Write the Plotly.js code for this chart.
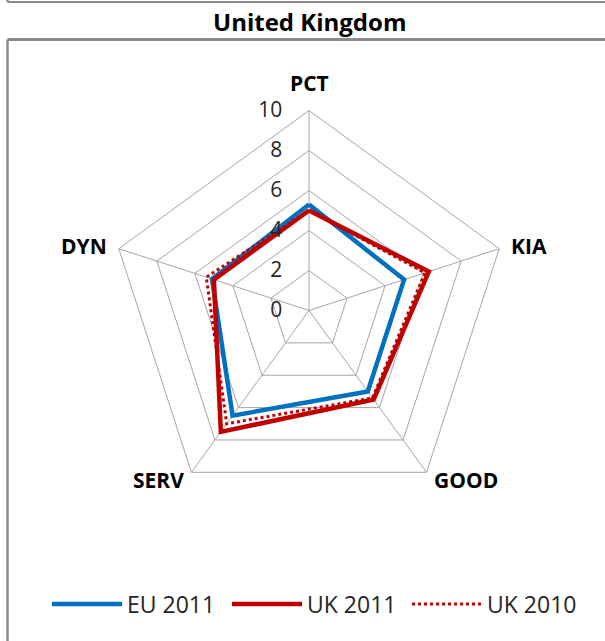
<!DOCTYPE html>
<html>
<head>
<meta charset="utf-8">
<script src="https://cdn.plot.ly/plotly-3.0.1.min.js"></script>
<style>
html,body{margin:0;padding:0;background:#fff;}
#chart{width:605px;height:641px;}
</style>
</head>
<body>
<div id="chart"></div>
<script>
// Data
const categories = ["PCT", "KIA", "GOOD", "SERV", "DYN"];
const eu2011 = [5.3, 5.0, 5.0, 6.5, 5.1];
const uk2011 = [5.0, 6.3, 5.5, 7.5, 5.0];
const uk2010 = [5.0, 6.1, 5.4, 7.0, 5.4];
const radialTicks = [0, 2, 4, 6, 8, 10];
const chartTitle = "United Kingdom";

function closeLoop(arr) { return arr.concat([arr[0]]); }
const theta = closeLoop(categories);

const FONT = "Open Sans, sans-serif";

const traces = [
  {type: "scatterpolar", mode: "lines", name: "EU 2011",
   r: closeLoop(eu2011), theta: theta,
   line: {color: "#0070C0", width: 4.5}},
  {type: "scatterpolar", mode: "lines", name: "UK 2011",
   r: closeLoop(uk2011), theta: theta,
   line: {color: "#C00000", width: 4.5}},
  {type: "scatterpolar", mode: "lines", name: "UK 2010",
   r: closeLoop(uk2010), theta: theta,
   line: {color: "#C00000", width: 3, dash: "dot"}}
];

const W = 605, H = 641;
const cx = 309, cy = 310.5, R = 200;

// category labels placed just outside each spoke of the pentagon
const catAnnotations = categories.map(function (c, i) {
  const a = (90 - 360 / categories.length * i) * Math.PI / 180;
  const ca = Math.cos(a), sa = Math.sin(a);
  const top = Math.abs(ca) < 0.1;
  const dr = top ? 28 : 10;
  const px = cx + (R + dr) * ca;
  const py = cy - (R + dr) * sa;
  return {
    text: "<b>" + c + "</b>",
    xref: "paper", yref: "paper",
    x: px / W, y: 1 - py / H,
    xanchor: top ? "center" : (ca > 0 ? "left" : "right"),
    yanchor: "middle",
    showarrow: false,
    font: {family: FONT, size: 21, color: "#000"}
  };
});

const layout = {
  width: W, height: H,
  margin: {l: 0, r: 0, t: 0, b: 0},
  paper_bgcolor: "#ffffff",
  plot_bgcolor: "#ffffff",
  showlegend: true,
  title: {
    text: "<b>" + chartTitle + "</b>",
    font: {family: FONT, size: 24, color: "#000"},
    x: 0.512, xanchor: "center",
    y: 1 - 23 / H, yanchor: "middle"
  },
  polar: {
    domain: {
      x: [(cx - R) / W, (cx + R) / W],
      y: [(H - cy - R) / H, (H - cy + R) / H]
    },
    gridshape: "linear",
    bgcolor: "#ffffff",
    angularaxis: {
      rotation: 90,
      direction: "clockwise",
      categoryorder: "array",
      categoryarray: categories,
      showline: true,
      linecolor: "#a6a6a6",
      linewidth: 1,
      gridcolor: "#a6a6a6",
      gridwidth: 1,
      ticks: "",
      showticklabels: false
    },
    radialaxis: {
      range: [0, 10],
      tickvals: radialTicks,
      ticktext: radialTicks.map(String),
      angle: 90,
      tickangle: 90,
      side: "counterclockwise",
      showline: false,
      ticks: "outside",
      ticklen: 19,
      tickcolor: "rgba(0,0,0,0)",
      gridcolor: "#a6a6a6",
      gridwidth: 1,
      tickfont: {family: FONT, size: 21, color: "#262626"}
    }
  },
  annotations: catAnnotations,
  legend: {
    orientation: "h",
    x: 47 / W, xanchor: "left",
    y: (H - 604) / H, yanchor: "middle",
    font: {family: FONT, size: 23, color: "#262626"},
    itemwidth: 70,
    entrywidth: 95,
    entrywidthmode: "pixels",
    tracegroupgap: 0,
    bgcolor: "rgba(0,0,0,0)"
  },
  shapes: [
    {type: "line", xref: "paper", yref: "paper",
     x0: 7.5 / W, x1: 1.01, y0: 1 - 2 / H, y1: 1 - 2 / H,
     line: {color: "#8c8c8c", width: 2}},
    {type: "line", xref: "paper", yref: "paper",
     x0: 7.5 / W, x1: 7.5 / W, y0: 1 - 2 / H, y1: 1.01,
     line: {color: "#8c8c8c", width: 2.5}},
    {type: "line", xref: "paper", yref: "paper",
     x0: 7.5 / W, x1: 1.01, y0: 1 - 39.5 / H, y1: 1 - 39.5 / H,
     line: {color: "#8c8c8c", width: 3}},
    {type: "line", xref: "paper", yref: "paper",
     x0: 7.5 / W, x1: 7.5 / W, y0: 1 - 39.5 / H, y1: -0.01,
     line: {color: "#8c8c8c", width: 2.5}}
  ]
};

Plotly.newPlot("chart", traces, layout, {displayModeBar: false, staticPlot: true});
</script>
</body>
</html>
